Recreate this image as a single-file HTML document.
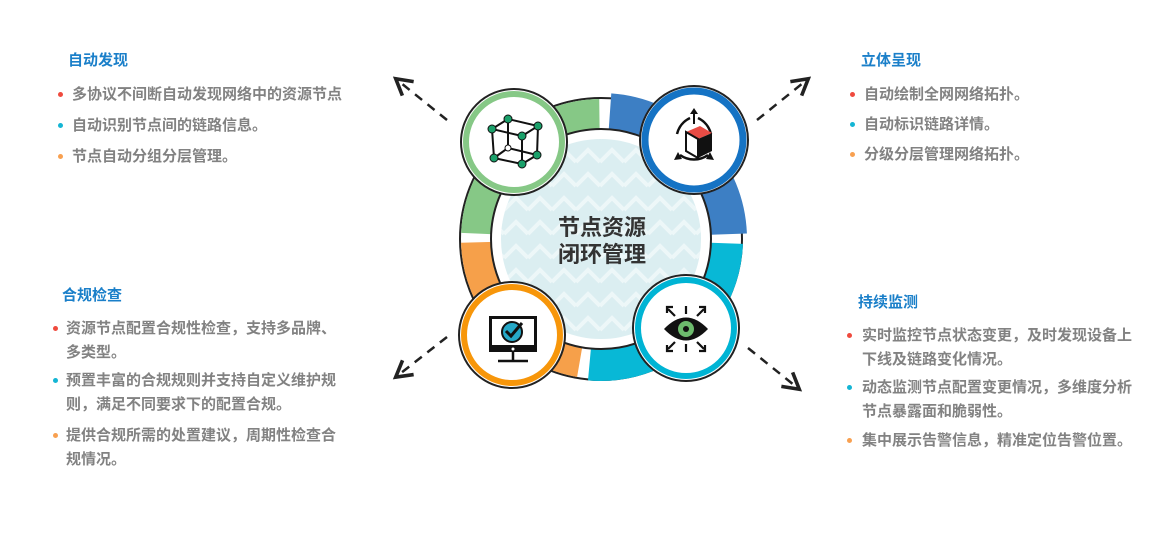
<!DOCTYPE html>
<html><head><meta charset="utf-8"><style>
body{margin:0;background:#fff;width:1174px;height:535px;position:relative;overflow:hidden;font-family:"Liberation Sans","Noto Sans CJK SC",sans-serif}
.t{position:absolute;font-size:15px;font-weight:bold;color:#1a7fc9;white-space:nowrap}
.b{position:absolute;font-size:15px;font-weight:bold;color:#828282;line-height:24px;white-space:nowrap}
.d{position:absolute;width:5px;height:5px;border-radius:50%}
.c{position:absolute;font-size:22px;font-weight:bold;color:#333;text-align:center;width:140px;line-height:27px}
</style></head><body>
<svg width="1174" height="535" style="position:absolute;left:0;top:0">
<defs><marker id="ah" viewBox="0 0 10 10" refX="5" refY="5" markerWidth="9" markerHeight="9" orient="auto"><path d="M1,1 L8,5 L1,9" fill="none" stroke="#222" stroke-width="1.6"/></marker>
<pattern id="pt" width="24" height="24" patternUnits="userSpaceOnUse"><path d="M0,18 L12,6 L24,18" fill="none" stroke="#fff" stroke-width="4" opacity="0.5"/></pattern></defs>
<g stroke="#222" stroke-width="2.5" stroke-dasharray="9 7" fill="none">
<line x1="447" y1="120" x2="401" y2="83" marker-end="url(#ah)"/>
<line x1="757" y1="120" x2="803" y2="83" marker-end="url(#ah)"/>
<line x1="447" y1="337" x2="401" y2="373" marker-end="url(#ah)"/>
<line x1="748" y1="348" x2="794" y2="385" marker-end="url(#ah)"/>
</g>
<circle cx="601" cy="239" r="141" fill="#fff" stroke="#222" stroke-width="2"/>
<g fill="none">
<circle cx="601" cy="239" r="124" stroke="#86c886" stroke-width="32" stroke-dasharray="187.6 600" stroke-dashoffset="-394.9"/>
<circle cx="601" cy="239" r="128" stroke="#3d7fc4" stroke-width="36" stroke-dasharray="187 620" stroke-dashoffset="-612"/>
<circle cx="601" cy="239" r="126" stroke="#08b8d6" stroke-width="32" stroke-dasharray="205 600" stroke-dashoffset="-4.4"/>
<circle cx="601" cy="239" r="124" stroke="#f6a04a" stroke-width="32" stroke-dasharray="170 620" stroke-dashoffset="-216"/>
</g>
<circle cx="601" cy="239" r="110" fill="#fff" stroke="#222" stroke-width="2"/>
<circle cx="601" cy="239" r="100" fill="#dbeef1"/>
<circle cx="601" cy="239" r="100" fill="url(#pt)"/>
<g>
<circle cx="514" cy="142" r="53" fill="#fff" stroke="#222" stroke-width="2"/><circle cx="514" cy="142" r="48" fill="#fff" stroke="#86c886" stroke-width="6"/>
<circle cx="694" cy="140" r="54" fill="#fff" stroke="#222" stroke-width="2"/><circle cx="694" cy="140" r="49" fill="#fff" stroke="#1573c4" stroke-width="7"/>
<circle cx="512" cy="335" r="53" fill="#fff" stroke="#222" stroke-width="2"/><circle cx="512" cy="335" r="48" fill="#fff" stroke="#f7960a" stroke-width="6"/>
<circle cx="686" cy="328" r="53" fill="#fff" stroke="#222" stroke-width="2"/><circle cx="686" cy="328" r="48" fill="#fff" stroke="#00b4d4" stroke-width="6"/>
</g>
<g stroke="#111" stroke-width="2" fill="none">
<path d="M492,129 L508,119 L538,126 L522,136 Z M492,129 L494,158 L522,164 L522,136 M538,126 L537,155 L522,164 M508,119 L508,148 L494,158 M508,148 L537,155"/>
</g>
<g fill="#1aa06a" stroke="#111" stroke-width="1"><circle cx="492" cy="129" r="4"/><circle cx="508" cy="119" r="4"/><circle cx="538" cy="126" r="4"/><circle cx="522" cy="136" r="4"/><circle cx="494" cy="158" r="4"/><circle cx="522" cy="164" r="4"/><circle cx="537" cy="155" r="4"/><circle cx="508" cy="148" r="3" fill="#fff"/></g>
<g>
<path d="M677,134 A24,24 0 0 1 690,118 M711,134 A24,24 0 0 0 698,118 M680,155 A24,24 0 0 0 708,155" stroke="#111" stroke-width="2.5" fill="none"/>
<path d="M694,112 L694,124" stroke="#111" stroke-width="2"/><path d="M690,114 L694,108 L698,114Z M674,160 L678,152 L682,159Z M714,160 L710,152 L706,159Z" fill="#111"/>
<path d="M686,132 L700,126 L712,133 L698,139Z" fill="#e84c45"/>
<path d="M686,132 L698,139 L698,158 L686,151Z" fill="#fff" stroke="#111" stroke-width="2"/>
<path d="M712,133 L698,139 L698,158 L712,151Z" fill="#111"/>
</g>
<g>
<rect x="489" y="316" width="48" height="36" fill="#111"/><rect x="492" y="319" width="42" height="26" fill="#fff"/>
<circle cx="512" cy="332" r="10" fill="#26a9c8" stroke="#111" stroke-width="2"/><path d="M506,331 L511,336 L522,323" stroke="#111" stroke-width="3" fill="none"/>
<circle cx="513" cy="349" r="1.5" fill="#fff"/>
<path d="M513,352 L513,360 M498,361 L528,361" stroke="#111" stroke-width="2.5"/>
</g>
<g>
<path d="M664,329 Q686,306 708,329 Q686,352 664,329Z" fill="#111"/>
<circle cx="686" cy="329" r="8" fill="#6dbb6d"/><circle cx="686" cy="329" r="3" fill="#111"/>
<path d="M686,306 L686,314 M686,344 L686,352 M667,313 L667,307 L673,307 M705,313 L705,307 L699,307 M667,345 L667,351 L673,351 M705,345 L705,351 L699,351 M668,309 L675,316 M704,309 L697,316 M668,349 L675,342 M704,349 L697,342" stroke="#111" stroke-width="2.2" fill="none"/>
</g>
</svg>
<div class="c" style="left:532px;top:214px">节点资源<br>闭环管理</div>

<div class="t" style="left:68px;top:49px">自动发现</div>
<div class="d" style="left:58px;top:92px;background:#ef4a3e"></div><div class="b" style="left:72px;top:83px">多协议不间断自动发现网络中的资源节点</div>
<div class="d" style="left:58px;top:123px;background:#14b5d4"></div><div class="b" style="left:72px;top:114px">自动识别节点间的链路信息。</div>
<div class="d" style="left:58px;top:154px;background:#f8a050"></div><div class="b" style="left:72px;top:145px">节点自动分组分层管理。</div>

<div class="t" style="left:62px;top:284px">合规检查</div>
<div class="d" style="left:53px;top:326px;background:#ef4a3e"></div><div class="b" style="left:66px;top:317px">资源节点配置合规性检查，支持多品牌、<br>多类型。</div>
<div class="d" style="left:53px;top:378px;background:#14b5d4"></div><div class="b" style="left:66px;top:369px">预置丰富的合规规则并支持自定义维护规<br>则，满足不同要求下的配置合规。</div>
<div class="d" style="left:53px;top:433px;background:#f8a050"></div><div class="b" style="left:66px;top:424px">提供合规所需的处置建议，周期性检查合<br>规情况。</div>

<div class="t" style="left:861px;top:49px">立体呈现</div>
<div class="d" style="left:850px;top:92px;background:#ef4a3e"></div><div class="b" style="left:864px;top:83px">自动绘制全网网络拓扑。</div>
<div class="d" style="left:850px;top:122px;background:#14b5d4"></div><div class="b" style="left:864px;top:113px">自动标识链路详情。</div>
<div class="d" style="left:850px;top:152px;background:#f8a050"></div><div class="b" style="left:864px;top:143px">分级分层管理网络拓扑。</div>

<div class="t" style="left:858px;top:291px">持续监测</div>
<div class="d" style="left:847px;top:333px;background:#ef4a3e"></div><div class="b" style="left:862px;top:324px">实时监控节点状态变更，及时发现设备上<br>下线及链路变化情况。</div>
<div class="d" style="left:847px;top:385px;background:#14b5d4"></div><div class="b" style="left:862px;top:376px">动态监测节点配置变更情况，多维度分析<br>节点暴露面和脆弱性。</div>
<div class="d" style="left:847px;top:438px;background:#f8a050"></div><div class="b" style="left:862px;top:429px">集中展示告警信息，精准定位告警位置。</div>
</body></html>
